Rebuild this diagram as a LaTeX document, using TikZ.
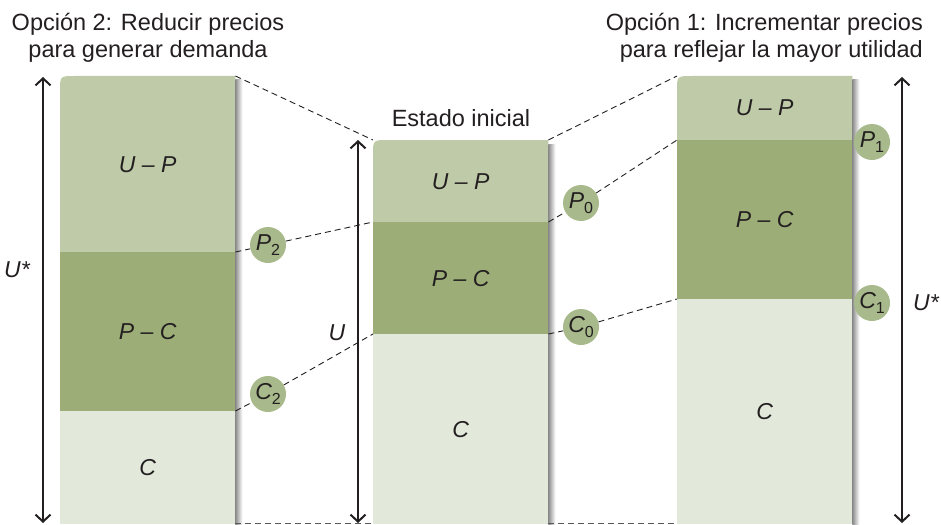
\documentclass[tikz,border=0pt]{standalone}
\usepackage{fontspec}
\setmainfont{Liberation Sans}
\usetikzlibrary{arrows.meta,backgrounds}
\definecolor{verdeclaro}{RGB}{190,202,168}
\definecolor{verdeoscuro}{RGB}{156,173,119}
\definecolor{verdepalido}{RGB}{226,232,218}
\definecolor{verdepunto}{RGB}{168,186,139}
\definecolor{tinta}{RGB}{35,31,32}
\newcommand{\indice}[1]{\raisebox{-5pt}{\fontsize{16}{16}\selectfont\upshape #1}}

\begin{document}
\begin{tikzpicture}[x=1pt,y=-1pt,
  tramo/.style={anchor=north west,minimum width=175pt,inner sep=0pt,text=tinta,
    font=\fontsize{23}{23}\selectfont\itshape},
  punto/.style={circle,fill=verdepunto,minimum size=36pt,inner sep=0pt,text=tinta,
    font=\fontsize{23}{23}\selectfont\itshape},
  titulo/.style={text=tinta,font=\fontsize{23.5}{27}\selectfont,inner sep=0pt},
  medida/.style={text=tinta,font=\fontsize{23}{23}\selectfont\itshape,inner sep=0pt},
  guion/.style={tinta,line width=0.9pt,dash pattern=on 6pt off 4pt},
  flecha/.style={tinta,line width=2pt,{Straight Barb[length=7pt,width=15pt]}-{Straight Barb[length=7pt,width=15pt]}},
  sombra/.style={left color=black!45,right color=white}]
\useasboundingbox (0,0) rectangle (941,524);

% columna izquierda: opcion 2
\node[tramo,minimum height=176pt] (izqup) at (60,76) {\raisebox{-8pt}{U – P}};
\node[tramo,minimum height=159pt,fill=verdeoscuro] (izqpc) at (60,252) {P – C};
\node[tramo,minimum height=113pt,fill=verdepalido] (izqc) at (60,411) {C};

% columna central: estado inicial
\node[tramo,minimum height=82pt] (iniup) at (373,140) {U – P};
\node[tramo,minimum height=112pt,fill=verdeoscuro] (inipc) at (373,222) {P – C};
\node[tramo,minimum height=190pt,fill=verdepalido] (inic) at (373,334) {C};

% columna derecha: opcion 1
\node[tramo,minimum height=64pt] (derup) at (677,76) {U – P};
\node[tramo,minimum height=159pt,fill=verdeoscuro] (derpc) at (677,140) {P – C};
\node[tramo,minimum height=225pt,fill=verdepalido] (derc) at (677,299) {C};

\begin{scope}[on background layer]
  \foreach \col in {izq,ini,der}{
    \fill[verdeclaro] (\col up.south west) -- ([yshift=-15pt]\col up.north west)
      .. controls (\col up.north west) .. ([xshift=15pt]\col up.north west)
      -- (\col up.north east) -- (\col up.south east) -- cycle;
    \shade[sombra] ([yshift=-4pt]\col up.north east) rectangle ([xshift=7pt]\col c.south east);
  }
\end{scope}

% titulos
\node[titulo,align=center] (opc2) at (148,38) {Opción 2: Reducir precios\\para generar demanda};
\node[titulo] (estado) at (461,118) {Estado inicial};
\node[titulo,align=right,anchor=east] (opc1) at (923,38) {Opción 1: Incrementar precios\\para reflejar la mayor utilidad};

% flechas de utilidad
\coordinate (izqalto) at (43,77);
\coordinate (izqbajo) at (43,523);
\coordinate (inialto) at (358,140);
\coordinate (inibajo) at (358,523);
\coordinate (deralto) at (902,77);
\coordinate (derbajo) at (902,523);
\draw[flecha] (izqalto) -- (izqbajo);
\draw[flecha] (inialto) -- (inibajo);
\draw[flecha] (deralto) -- (derbajo);
\node[medida] (uizq) at (17,270) {U*};
\node[medida] (uini) at (337,333) {U};
\node[medida] (uder) at (926,303) {U*};

% precios y costos
\node[punto] (p2) at (268,245) {P\indice{2}};
\node[punto] (c2) at (268,394) {C\indice{2}};
\node[punto] (p0) at (581,203) {P\indice{0}};
\node[punto] (c0) at (581,327) {C\indice{0}};
\node[punto] (p1) at (872,142) {P\indice{1}};
\node[punto] (c1) at (872,303) {C\indice{1}};

% lineas de unión
\draw[guion] (izqup.north east) -- (iniup.north west);
\draw[guion] (iniup.north east) -- (derup.north west);
\draw[guion] (izqpc.north east) -- (p2) -- (inipc.north west);
\draw[guion] (izqc.north east) -- (c2) -- (inic.north west);
\draw[guion] (inipc.north east) -- (p0) -- (derpc.north west);
\draw[guion] (inic.north east) -- (c0) -- (derc.north west);
\draw[guion,black!65] ([yshift=1pt]izqc.south east) -- ([yshift=1pt]inic.south west);
\draw[guion,black!65] ([yshift=1pt]inic.south east) -- ([yshift=1pt]derc.south west);
\end{tikzpicture}
\end{document}
